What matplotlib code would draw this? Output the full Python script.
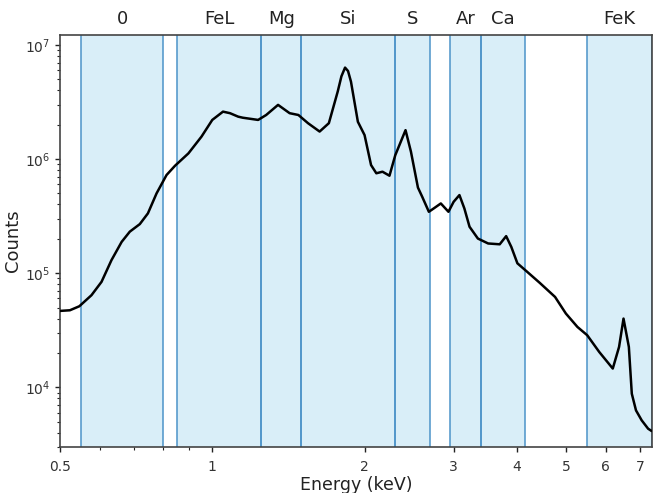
import matplotlib
matplotlib.use("Agg")
import matplotlib.pyplot as plt
import matplotlib.transforms as mtransforms
from matplotlib.ticker import FixedLocator, NullFormatter, FixedFormatter

# Spectrum (energy in keV, counts)
energy = [0.50, 0.523, 0.546, 0.577, 0.604, 0.632, 0.662, 0.687, 0.719, 0.746,
          0.776, 0.812, 0.844, 0.897, 0.952, 1.00, 1.05, 1.084, 1.125, 1.149,
          1.232, 1.278, 1.349, 1.422, 1.48, 1.546, 1.63, 1.70, 1.77, 1.80,
          1.83, 1.855, 1.88, 1.94, 2.00, 2.06, 2.11, 2.17, 2.24, 2.30,
          2.41, 2.47, 2.55, 2.60, 2.68, 2.74, 2.83, 2.93, 3.00, 3.08,
          3.15, 3.225, 3.35, 3.51, 3.70, 3.81, 3.90, 4.01, 4.19, 4.44,
          4.76, 5.00, 5.27, 5.51, 5.82, 6.19, 6.37, 6.50, 6.66, 6.75,
          6.88, 7.06, 7.27, 7.37]
counts = [46700, 47300, 51300, 64100, 83900, 130000, 188000, 231000, 269000, 334000,
          500000, 724000, 873000, 1.12e6, 1.57e6, 2.20e6, 2.60e6, 2.52e6, 2.35e6, 2.30e6,
          2.20e6, 2.43e6, 2.98e6, 2.52e6, 2.43e6, 2.06e6, 1.74e6, 2.06e6, 3.90e6, 5.3e6,
          6.32e6, 5.9e6, 4.76e6, 2.12e6, 1.62e6, 885000, 750000, 774000, 714000, 1.08e6,
          1.79e6, 1.16e6, 562000, 467000, 345000, 369000, 408000, 345000, 422000, 483000,
          369000, 255000, 201000, 182000, 179000, 211000, 170000, 122000, 103000, 82200,
          61900, 44300, 33800, 28600, 20400, 14600, 22600, 40000, 22600, 8790,
          6280, 5140, 4340, 4170]

# Element bands (keV)
band_labels = ["0", "FeL", "Mg", "Si", "S", "Ar", "Ca", "FeK"]
band_lo = [0.55, 0.85, 1.25, 1.50, 2.30, 2.95, 3.40, 5.50]
band_hi = [0.80, 1.25, 1.50, 2.30, 2.70, 3.40, 4.15, 7.40]

xticks = [0.5, 1, 2, 3, 4, 5, 6, 7]
xticklabels = ["0.5", "1", "2", "3", "4", "5", "6", "7"]

fig = plt.figure(figsize=(6.6, 4.93), dpi=100)
ax = fig.add_axes([60/660, 1 - 447/493, (652 - 60)/660, (447 - 35)/493])

ax.set_xscale("log")
ax.set_yscale("log")
ax.set_xlim(0.5, 7.4)
ax.set_ylim(3.0e3, 1.22e7)

trans = mtransforms.blended_transform_factory(ax.transData, ax.transAxes)
for lab, lo, hi in zip(band_labels, band_lo, band_hi):
    ax.axvspan(lo, hi, facecolor="#d9eef8", edgecolor="none", zorder=0)
    for xv in (lo, hi):
        ax.axvline(xv, color="#4d94c9", lw=1.3, alpha=0.85, zorder=1)
    xc = (lo * hi) ** 0.5
    ax.text(xc, 1.026, lab, transform=trans, ha="center", va="baseline",
            fontsize=13, color="#222222")

ax.plot(energy, counts, color="black", lw=1.8, solid_joinstyle="round", zorder=3)

ax.xaxis.set_major_locator(FixedLocator(xticks))
ax.xaxis.set_major_formatter(FixedFormatter(xticklabels))
ax.xaxis.set_minor_locator(FixedLocator([0.6, 0.7, 0.8, 0.9]))
ax.xaxis.set_minor_formatter(NullFormatter())

ax.tick_params(axis="both", which="major", labelsize=10, length=3.5, width=1.0,
               colors="#222222", labelcolor="#333333")
ax.tick_params(axis="both", which="minor", length=2, width=0.8, colors="#222222")
ax.tick_params(axis="x", pad=6)

for s in ax.spines.values():
    s.set_color("#444444")
    s.set_linewidth(1.2)

ax.set_xlabel("Energy (keV)", fontsize=12.5, color="#222222", labelpad=1)
ax.set_ylabel("Counts", fontsize=13, color="#222222", labelpad=2)

fig.savefig("out.png", dpi=100)
